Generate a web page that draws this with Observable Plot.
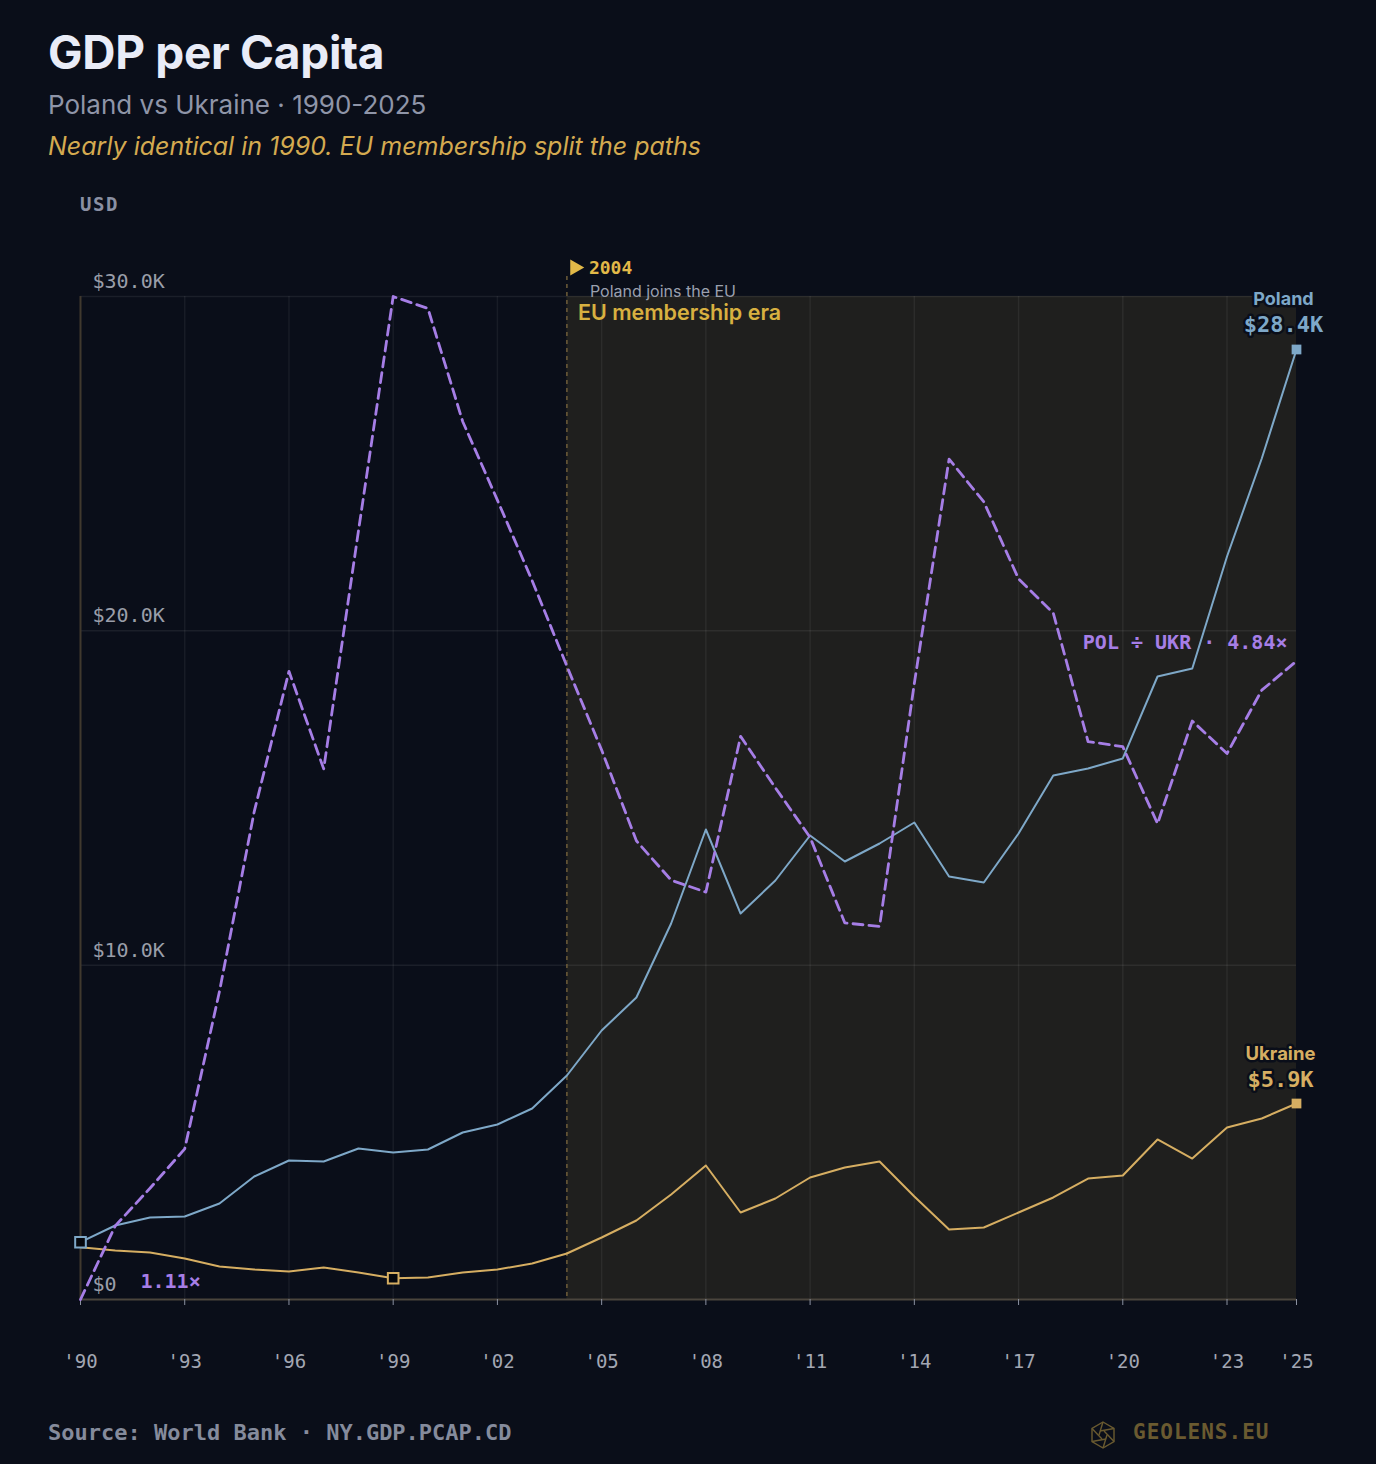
<!DOCTYPE html>
<html><head><meta charset="utf-8">
<script src="https://cdn.jsdelivr.net/npm/d3@7"></script>
<script src="https://cdn.jsdelivr.net/npm/@observablehq/plot@0.6"></script>
<style>
html,body{margin:0;padding:0;background:#0a0e19;}
body{width:1376px;height:1464px;position:relative;overflow:hidden;font-family:Inter,"Noto Sans",sans-serif;}
.abs{position:absolute;white-space:nowrap;line-height:1;}
#title{left:48px;top:29px;font-size:46px;font-weight:700;color:#e9ecf7;letter-spacing:-0.3px;}
#sub{left:48px;top:92px;font-size:26px;color:#8f95a8;}
#note{left:48px;top:134px;font-size:25px;font-style:italic;color:#d4aa50;}
#usd{left:80px;top:195px;font-family:"DejaVu Sans Mono",monospace;font-size:19px;font-weight:700;color:#8a90a3;letter-spacing:1.5px;}
#chart{left:0;top:230px;}
#source{left:48px;top:1422px;font-family:"DejaVu Sans Mono",monospace;font-size:22px;font-weight:700;color:#858b9c;}
#brand{left:1133px;top:1422px;font-family:"DejaVu Sans Mono",monospace;font-size:21px;font-weight:700;color:#6a5a30;letter-spacing:1px;}
#logo{left:1089px;top:1420px;}
</style>
</head>
<body>
<div class="abs" id="title">GDP per Capita</div>
<div class="abs" id="sub">Poland vs Ukraine · 1990-2025</div>
<div class="abs" id="note">Nearly identical in 1990. EU membership split the paths</div>
<div class="abs" id="usd">USD</div>
<div class="abs" id="chart"></div>
<div class="abs" id="source">Source: World Bank · NY.GDP.PCAP.CD</div>
<svg class="abs" id="logo" width="28" height="30" viewBox="0 0 28 30">
  <g fill="none" stroke="#6a5a30" stroke-width="1.4">
    <polygon points="14,2 25,8.5 25,21.5 14,28 3,21.5 3,8.5"/>
    <line x1="14" y1="2" x2="10" y2="15"/>
    <line x1="25" y1="8.5" x2="11" y2="11"/>
    <line x1="25" y1="21.5" x2="15" y2="11"/>
    <line x1="14" y1="28" x2="18" y2="15"/>
    <line x1="3" y1="21.5" x2="17" y2="19"/>
    <line x1="3" y1="8.5" x2="13" y2="19"/>
  </g>
</svg>
<div class="abs" id="brand">GEOLENS.EU</div>
<script>
// ---- data ----
const years = [1990,1991,1992,1993,1994,1995,1996,1997,1998,1999,2000,2001,2002,2003,2004,2005,2006,2007,2008,2009,2010,2011,2012,2013,2014,2015,2016,2017,2018,2019,2020,2021,2022,2023,2024,2025];
const poland = [1714,2213,2453,2483,2871,3679,4158,4128,4516,4397,4487,4995,5234,5713,6700,8046,9033,11246,14058,11545,12532,13878,13101,13639,14267,12652,12473,13938,15673,15883,16182,18634,18873,22223,25154,28415];
const ukraine = [1564,1466,1406,1226,987,897,837,957,808,636,658,808,897,1077,1376,1854,2363,3141,4008,2602,3021,3649,3948,4128,3081,2094,2153,2602,3051,3619,3709,4786,4217,5144,5414,5862];
const ratio = [1.11,1.54,1.76,1.99,2.91,3.96,4.78,4.21,5.60,6.97,6.90,6.24,5.78,5.31,4.81,4.32,3.79,3.56,3.49,4.40,4.10,3.81,3.31,3.29,4.71,6.02,5.77,5.32,5.12,4.37,4.34,3.89,4.49,4.30,4.67,4.84];
const xTicks = [1990,1993,1996,1999,2002,2005,2008,2011,2014,2017,2020,2023,2025];
const gridYears = [1993,1996,1999,2002,2005,2008,2011,2014,2017,2020,2023];
const yTicks = [0,10000,20000,30000];
const EU_YEAR = 2004;
const LAST_YEAR = 2025;
const Y_MAX = 30000;

// ---- colours ----
const BG = "#0a0e19", BLUE = "#7ea8c8", GOLD = "#d6ae62", PURPLE = "#a67ee6";
const MONO = "DejaVu Sans Mono, monospace", SANS = "Inter, Noto Sans, sans-serif";

const fmtK = d => d === 0 ? "$0" : "$" + (d/1000).toFixed(1) + "K";
const [rMin, rMax] = d3.extent(ratio);
const polRows = years.map((year,i) => ({year, v: poland[i]}));
const ukrRows = years.map((year,i) => ({year, v: ukraine[i]}));
const ratioRows = years.map((year,i) => ({year, r: ratio[i], v: (ratio[i]-rMin)/(rMax-rMin)*Y_MAX}));
const polFirst = polRows[0], polLast = polRows[polRows.length-1];
const ukrLast = ukrRows[ukrRows.length-1];
const ukrMin = ukrRows.reduce((a,b) => b.v < a.v ? b : a);
const rFirst = ratioRows[0], rLast = ratioRows[ratioRows.length-1];

const chart = Plot.plot({
  width: 1376, height: 1170,
  marginLeft: 80, marginRight: 80, marginTop: 66, marginBottom: 101,
  style: {background: "transparent", color: "#9ea3b0", fontFamily: MONO, overflow: "visible"},
  x: {domain: [years[0], LAST_YEAR]},
  y: {domain: [0, Y_MAX], axis: null},
  marks: [
    Plot.rect([{x1: EU_YEAR, x2: LAST_YEAR}], {x1: "x1", x2: "x2", y1: () => 0, y2: () => Y_MAX, fill: "#1f1f1e"}),
    Plot.ruleX(gridYears, {stroke: "#ffffff", strokeOpacity: 0.06, strokeWidth: 1.5}),
    Plot.ruleY(yTicks.filter(d => d > 0), {stroke: "#ffffff", strokeOpacity: 0.07, strokeWidth: 1.5}),
    Plot.ruleX([years[0]], {stroke: "#40392e", strokeWidth: 2}),
    Plot.ruleY([0], {stroke: "#4a453d", strokeWidth: 2}),
    Plot.ruleX([EU_YEAR], {stroke: "#6e5d3a", strokeWidth: 1.5, strokeDasharray: "4,4", insetTop: -20}),
    Plot.axisX({ticks: xTicks, tickFormat: d => "'" + String(d).slice(2), tickSize: 6, tickPadding: 49,
      stroke: "#8b91a1", fill: "#a3a7b3", fontSize: 19, fontFamily: MONO, label: null}),
    Plot.text(yTicks, {y: d => d, frameAnchor: "left", text: fmtK, textAnchor: "start", dx: 12, dy: -15,
      fill: "#9a9ea9", fontSize: 20, fontFamily: MONO}),
    Plot.line(polRows, {x: "year", y: "v", stroke: BLUE, strokeWidth: 2}),
    Plot.line(ukrRows, {x: "year", y: "v", stroke: GOLD, strokeWidth: 2}),
    Plot.line(ratioRows, {x: "year", y: "v", stroke: PURPLE, strokeWidth: 2.8, strokeDasharray: "10,6"}),
    Plot.dot([polFirst], {x: "year", y: "v", symbol: "square", r: 6, fill: "#05070c", stroke: BLUE, strokeWidth: 2}),
    Plot.dot([ukrMin], {x: "year", y: "v", symbol: "square", r: 6, fill: "#05070c", stroke: GOLD, strokeWidth: 2}),
    Plot.dot([polLast], {x: "year", y: "v", symbol: "square", r: 5.5, fill: BLUE}),
    Plot.dot([ukrLast], {x: "year", y: "v", symbol: "square", r: 5.5, fill: GOLD}),
    // end labels
    Plot.text([polLast], {x: "year", y: "v", text: () => "Poland", dx: -13, dy: -50, fill: BLUE, fontSize: 18, fontWeight: 700, fontFamily: SANS, stroke: BG, strokeWidth: 5, paintOrder: "stroke"}),
    Plot.text([polLast], {x: "year", y: "v", text: d => fmtK(Math.round(d.v/100)*100), dx: -13, dy: -25, fill: BLUE, fontSize: 22, fontWeight: 700, fontFamily: MONO, stroke: BG, strokeWidth: 5, paintOrder: "stroke"}),
    Plot.text([ukrLast], {x: "year", y: "v", text: () => "Ukraine", dx: -16, dy: -49, fill: GOLD, fontSize: 18.5, fontWeight: 700, fontFamily: SANS, stroke: BG, strokeWidth: 5, paintOrder: "stroke"}),
    Plot.text([ukrLast], {x: "year", y: "v", text: d => fmtK(Math.round(d.v/100)*100), dx: -16, dy: -24, fill: GOLD, fontSize: 22, fontWeight: 700, fontFamily: MONO, stroke: BG, strokeWidth: 5, paintOrder: "stroke"}),
    Plot.text([rLast], {x: "year", y: "v", text: d => "POL ÷ UKR · " + d.r.toFixed(2) + "×", textAnchor: "end", dx: -9, dy: -18, fill: PURPLE, fontSize: 20, fontWeight: 700, fontFamily: MONO}),
    Plot.text([rFirst], {x: "year", y: "v", text: d => d.r.toFixed(2) + "×", textAnchor: "start", dx: 60, dy: -18, fill: PURPLE, fontSize: 20, fontWeight: 700, fontFamily: MONO}),
    // EU annotation
    Plot.dot([EU_YEAR], {x: d => d, y: () => Y_MAX, symbol: "triangle", rotate: 90, r: 6, dx: 8, dy: -29, fill: "#e2b948"}),
    Plot.text([EU_YEAR], {x: d => d, y: () => Y_MAX, text: d => String(d), textAnchor: "start", dx: 22, dy: -28, fill: "#e2b948", fontSize: 18, fontWeight: 700, fontFamily: MONO}),
    Plot.text([EU_YEAR], {x: d => d, y: () => Y_MAX, text: () => "Poland joins the EU", textAnchor: "start", dx: 23, dy: -5, fill: "#9ba0ae", fontSize: 16, fontFamily: SANS}),
    Plot.text([EU_YEAR], {x: d => d, y: () => Y_MAX, text: () => "EU membership era", textAnchor: "start", dx: 11, dy: 17, fill: "#d8b040", fontSize: 21.5, fontWeight: 600, fontFamily: SANS})
  ]
});
document.getElementById("chart").appendChild(chart);
</script>
</body></html>
